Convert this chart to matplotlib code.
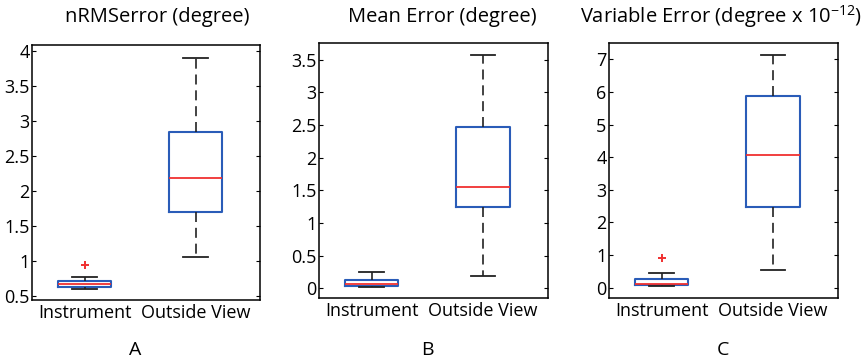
import matplotlib.pyplot as plt
import numpy as np

plt.rcParams['font.family'] = ['Open Sans', 'DejaVu Sans']

groups = ['Instrument', 'Outside View']
titles = ['nRMSerror (degree)', 'Mean Error (degree)',
          'Variable Error (degree x 10$^{\\mathregular{-12}}$)']
letters = ['A', 'B', 'C']

# per panel: [Instrument, Outside View]
whislo = [[0.60, 1.06], [0.015, 0.18], [0.05, 0.54]]
q1 = [[0.62, 1.70], [0.035, 1.24], [0.08, 2.48]]
med = [[0.665, 2.18], [0.07, 1.555], [0.11, 4.05]]
q3 = [[0.715, 2.85], [0.13, 2.47], [0.26, 5.87]]
whishi = [[0.77, 3.90], [0.255, 3.57], [0.44, 7.12]]
fliers = [[[0.945], []], [[], []], [[0.92], []]]

ylims = [(0.44, 4.09), (-0.145, 3.75), (-0.31, 7.49)]
yticks = [np.arange(0.5, 4.01, 0.5), np.arange(0, 3.51, 0.5), np.arange(0, 8, 1)]

# axes rects in pixels: left, top, right, bottom
rects = [(32.3, 45, 260, 300), (319.3, 43.3, 547.7, 297.7), (609.3, 43.3, 837.7, 297.7)]
title_x = [157, 442, 721]
letter_x = [135, 427, 723]

W, H = 866, 363
fig = plt.figure(figsize=(W / 100, H / 100), dpi=100)

blue = '#2a5cb8'
red = '#f03030'

for i in range(3):
    l, t, r, b = rects[i]
    ax = fig.add_axes([l / W, 1 - b / H, (r - l) / W, (b - t) / H])
    stats = []
    for j in range(2):
        stats.append(dict(med=med[i][j], q1=q1[i][j], q3=q3[i][j],
                          whislo=whislo[i][j], whishi=whishi[i][j],
                          fliers=fliers[i][j], label=groups[j]))
    ax.bxp(stats, positions=[1, 2], widths=0.48,
           boxprops=dict(color=blue, linewidth=1.5),
           medianprops=dict(color=red, linewidth=1.3),
           whiskerprops=dict(color='#222222', linewidth=1.2, linestyle=(0, (6, 3.5))),
           capprops=dict(color='#222222', linewidth=1.3),
           flierprops=dict(marker='+', markeredgecolor=red, markersize=6, markeredgewidth=1.4),
           capwidths=0.22)
    ax.set_xlim(0.53, 2.58)
    ax.set_ylim(*ylims[i])
    ax.set_yticks(yticks[i])
    ax.set_yticklabels(['%g' % v for v in yticks[i]])
    ax.tick_params(axis='y', direction='in', length=3, right=True, labelsize=13, pad=2)
    ax.tick_params(axis='x', length=0, labelsize=13, pad=3)
    for sp in ax.spines.values():
        sp.set_linewidth(1.1)
    fig.text(title_x[i] / W, 1 - 17 / H, titles[i], ha='center', va='center', fontsize=14.5)
    fig.text(letter_x[i] / W, 1 - 350 / H, letters[i], ha='center', va='center', fontsize=14)

fig.savefig('out.png', dpi=100)
